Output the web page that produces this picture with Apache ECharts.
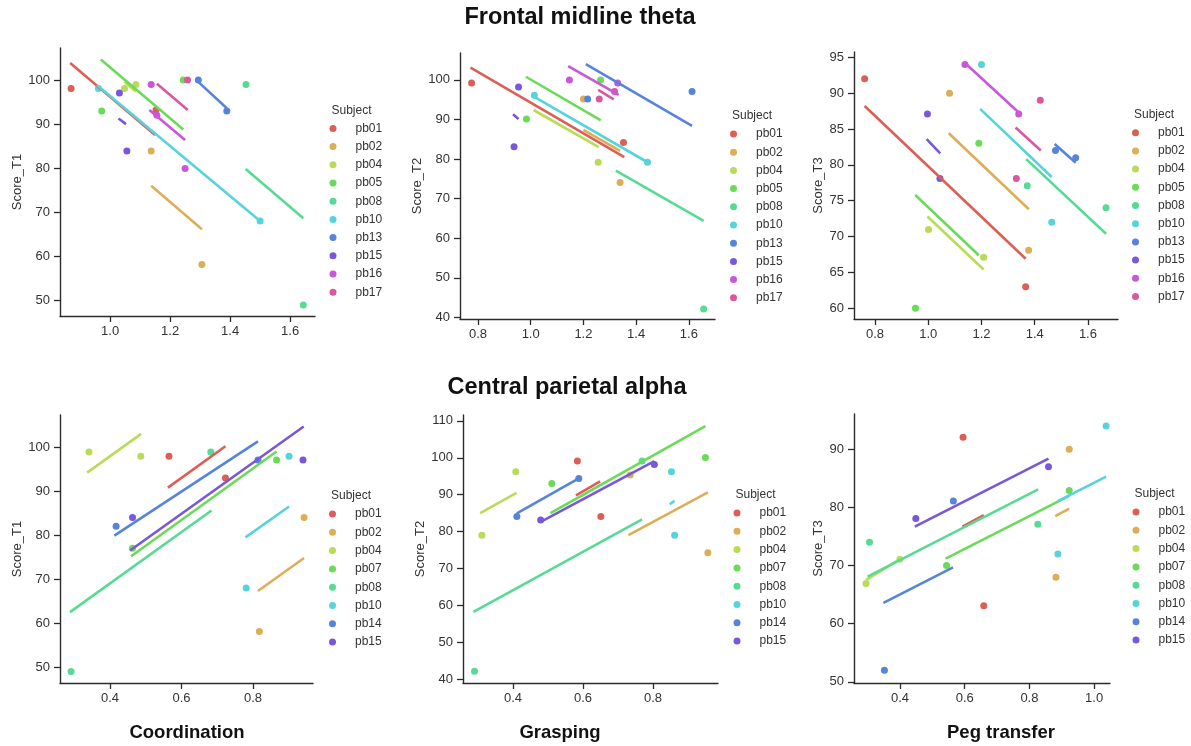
<!DOCTYPE html>
<html>
<head>
<meta charset="utf-8">
<title>Frontal midline theta / Central parietal alpha</title>
<script src="https://cdn.jsdelivr.net/npm/echarts@6/dist/echarts.min.js"></script>
<style>
  html, body { margin: 0; padding: 0; background: #fff; }
  #chart { width: 1191px; height: 746px; }
</style>
</head>
<body>
<div id="chart"></div>
<script>
// subjects per row
const subjectsTheta = ['pb01', 'pb02', 'pb04', 'pb05', 'pb08', 'pb10', 'pb13', 'pb15', 'pb16', 'pb17'];
const subjectsAlpha = ['pb01', 'pb02', 'pb04', 'pb07', 'pb08', 'pb10', 'pb14', 'pb15'];

// hls palette
const palette = ['#db5f57', '#dbae57', '#b9db57', '#69db57', '#57db94', '#57d3db', '#5784db', '#7957db', '#c957db', '#db579e'];

// tick values
const ticksThetaT1X = [1.0, 1.2, 1.4, 1.6];
const ticksThetaX = [0.8, 1.0, 1.2, 1.4, 1.6];
const ticksAlphaX = [0.4, 0.6, 0.8];
const ticksAlphaPegX = [0.4, 0.6, 0.8, 1.0];
const ticksT1Y = [50, 60, 70, 80, 90, 100];
const ticksThetaT2Y = [40, 50, 60, 70, 80, 90, 100];
const ticksThetaT3Y = [60, 65, 70, 75, 80, 85, 90, 95];
const ticksAlphaT2Y = [40, 50, 60, 70, 80, 90, 100, 110];
const ticksAlphaT3Y = [50, 60, 70, 80, 90];

// Frontal midline theta: Coordination vs Score_T1
const thetaCoordPoints = {
    pb01: [[0.87, 98.1], [1.153, 93.2]],
    pb02: [[1.137, 83.9], [1.306, 58.1]],
    pb04: [[1.048, 98.1], [1.086, 99.0]],
    pb05: [[0.972, 93.0], [1.244, 100]],
    pb08: [[1.453, 99.0], [1.644, 48.9]],
    pb10: [[0.961, 98.1], [1.50, 68.0]],
    pb13: [[1.294, 100], [1.389, 93.0]],
    pb15: [[1.031, 97.1], [1.056, 83.9]],
    pb16: [[1.137, 99.0], [1.156, 92.0], [1.25, 79.9]],
    pb17: [[1.258, 100]]
};
const thetaCoordFits = {
    pb01: [[0.867, 103.9], [1.15, 87.5]],
    pb02: [[1.137, 76.0], [1.306, 66.1]],
    pb04: [[1.048, 99.6], [1.086, 97.4]],
    pb05: [[0.969, 104.7], [1.244, 88.8]],
    pb08: [[1.452, 79.8], [1.644, 68.6]],
    pb10: [[0.956, 98.9], [1.50, 68.0]],
    pb13: [[1.294, 99.6], [1.389, 93.6]],
    pb15: [[1.028, 91.3], [1.053, 90.0]],
    pb16: [[1.131, 93.2], [1.25, 86.4]],
    pb17: [[1.156, 99.2], [1.259, 93.2]]
};

// Frontal midline theta: Grasping vs Score_T2
const thetaGraspPoints = {
    pb01: [[0.776, 99.2], [1.352, 84.2]],
    pb02: [[1.20, 95.2], [1.339, 74.1]],
    pb04: [[1.256, 79.2]],
    pb05: [[0.984, 90.1], [1.265, 100]],
    pb08: [[1.656, 42.1]],
    pb10: [[1.014, 96.1], [1.443, 79.2]],
    pb13: [[1.216, 95.2], [1.612, 97.1]],
    pb15: [[0.954, 98.2], [0.937, 83.1]],
    pb16: [[1.147, 100], [1.33, 99.2]],
    pb17: [[1.26, 95.2], [1.318, 97.1]]
};
const thetaGraspFits = {
    pb01: [[0.772, 103.1], [1.355, 80.5]],
    pb02: [[1.20, 87.4], [1.339, 82.1]],
    pb04: [[1.011, 92.4], [1.258, 83.0]],
    pb05: [[0.982, 100.8], [1.266, 89.8]],
    pb08: [[1.323, 77.1], [1.656, 64.4]],
    pb10: [[1.014, 95.7], [1.443, 79.2]],
    pb13: [[1.209, 104.0], [1.612, 88.4]],
    pb15: [[0.933, 91.3], [0.954, 90.1]],
    pb16: [[1.142, 103.5], [1.334, 96.2]],
    pb17: [[1.256, 97.5], [1.315, 95.1]]
};

// Frontal midline theta: Peg transfer vs Score_T3
const thetaPegPoints = {
    pb01: [[0.761, 92.0], [1.366, 63.0]],
    pb02: [[1.08, 90.0], [1.377, 68.1]],
    pb04: [[1.001, 71.0], [1.208, 67.1]],
    pb05: [[0.952, 60.0], [1.19, 83.0]],
    pb08: [[1.372, 77.1], [1.668, 74.0]],
    pb10: [[1.20, 94.0], [1.464, 72.0]],
    pb13: [[1.478, 82.0], [1.554, 81.0]],
    pb15: [[0.997, 87.1], [1.044, 78.1]],
    pb16: [[1.138, 94.0], [1.34, 87.1]],
    pb17: [[1.421, 89.0], [1.331, 78.1]]
};
const thetaPegFits = {
    pb01: [[0.761, 88.2], [1.366, 66.9]],
    pb02: [[1.077, 84.4], [1.378, 73.8]],
    pb04: [[0.997, 72.8], [1.208, 65.4]],
    pb05: [[0.951, 75.8], [1.19, 67.4]],
    pb08: [[1.368, 80.8], [1.668, 70.4]],
    pb10: [[1.195, 87.8], [1.464, 78.3]],
    pb13: [[1.475, 82.9], [1.554, 80.3]],
    pb15: [[0.994, 83.6], [1.045, 81.6]],
    pb16: [[1.138, 94.2], [1.34, 87.3]],
    pb17: [[1.328, 85.2], [1.423, 82.0]]
};

// Central parietal alpha: Coordination vs Score_T1
const alphaCoordPoints = {
    pb01: [[0.565, 97.9], [0.723, 93.0]],
    pb02: [[0.943, 84.0], [0.818, 58.1]],
    pb04: [[0.341, 98.9], [0.486, 97.9]],
    pb07: [[0.463, 77.0], [0.866, 97.1]],
    pb08: [[0.682, 98.9], [0.291, 49.0]],
    pb10: [[0.901, 97.9], [0.781, 68.0]],
    pb14: [[0.417, 82.0], [0.814, 97.1]],
    pb15: [[0.463, 84.0], [0.940, 97.1]]
};
const alphaCoordFits = {
    pb01: [[0.562, 90.8], [0.723, 100.2]],
    pb02: [[0.814, 67.3], [0.943, 74.8]],
    pb04: [[0.336, 94.2], [0.487, 103.0]],
    pb07: [[0.459, 75.2], [0.866, 99.0]],
    pb08: [[0.288, 62.5], [0.684, 85.6]],
    pb10: [[0.779, 79.5], [0.901, 86.5]],
    pb14: [[0.412, 79.9], [0.814, 101.3]],
    pb15: [[0.456, 76.5], [0.942, 104.7]]
};

// Central parietal alpha: Grasping vs Score_T2
const alphaGraspPoints = {
    pb01: [[0.584, 99.1], [0.651, 84.1]],
    pb02: [[0.735, 95.3], [0.957, 74.2]],
    pb04: [[0.408, 96.2], [0.311, 79.0]],
    pb07: [[0.511, 93.0], [0.950, 100.1]],
    pb08: [[0.769, 99.1], [0.290, 42.1]],
    pb10: [[0.853, 96.2], [0.862, 79.0]],
    pb14: [[0.411, 84.1], [0.588, 94.4]],
    pb15: [[0.479, 83.1], [0.804, 98.2]]
};
const alphaGraspFits = {
    pb01: [[0.58, 89.8], [0.649, 93.6]],
    pb02: [[0.73, 79.0], [0.957, 90.6]],
    pb04: [[0.306, 85.0], [0.41, 90.5]],
    pb07: [[0.507, 85.0], [0.950, 108.6]],
    pb08: [[0.287, 58.2], [0.769, 83.3]],
    pb10: [[0.848, 87.4], [0.862, 88.3]],
    pb14: [[0.411, 84.9], [0.588, 94.4]],
    pb15: [[0.479, 82.6], [0.804, 99.1]]
};

// Central parietal alpha: Peg transfer vs Score_T3
const alphaPegPoints = {
    pb01: [[0.595, 92.1], [0.659, 63.1]],
    pb02: [[0.923, 90.0], [0.882, 68.0]],
    pb04: [[0.40, 71.1], [0.295, 66.9]],
    pb07: [[0.923, 82.9], [0.544, 70.0]],
    pb08: [[0.826, 77.1], [0.306, 74.0]],
    pb10: [[0.888, 72.0], [1.037, 94.0]],
    pb14: [[0.565, 81.1], [0.352, 52.0]],
    pb15: [[0.449, 78.1], [0.859, 87.0]]
};
const alphaPegFits = {
    pb01: [[0.593, 76.7], [0.659, 78.7]],
    pb02: [[0.88, 78.5], [0.923, 79.8]],
    pb04: [[0.295, 67.5], [0.40, 71.1]],
    pb07: [[0.541, 71.2], [0.923, 82.0]],
    pb08: [[0.30, 68.1], [0.827, 83.1]],
    pb10: [[0.888, 81.1], [1.037, 85.3]],
    pb14: [[0.349, 63.6], [0.564, 69.7]],
    pb15: [[0.446, 76.7], [0.859, 88.4]]
};

const chart = echarts.init(document.getElementById('chart'));

const axisColor = '#2b2b2b';
const textColor = '#333';
const fontFamily = '"Liberation Sans", Arial, sans-serif';

// layout of the six panels
const panels = [
    { grid: { left: 60, top: 48, width: 255, height: 268 }, x: [0.833, 1.683], y: [46.4, 107.3], xt: ticksThetaT1X, yt: ticksT1Y, yName: 'Score_T1', gap: 36,
      subjects: subjectsTheta, points: thetaCoordPoints, fits: thetaCoordFits, legend: [333, 128.4], legendGap: 6.2 },
    { grid: { left: 460, top: 53, width: 255, height: 266 }, x: [0.732, 1.699], y: [39.6, 106.8], xt: ticksThetaX, yt: ticksThetaT2Y, yName: 'Score_T2', gap: 36,
      subjects: subjectsTheta, points: thetaGraspPoints, fits: thetaGraspFits, legend: [733.5, 134], legendGap: 6.2 },
    { grid: { left: 854, top: 52, width: 264, height: 267 }, x: [0.721, 1.713], y: [58.5, 95.74], xt: ticksThetaX, yt: ticksThetaT3Y, yName: 'Score_T3', gap: 29,
      subjects: subjectsTheta, points: thetaPegPoints, fits: thetaPegFits, legend: [1135.5, 132.7], legendGap: 6.2 },
    { grid: { left: 60, top: 415, width: 253, height: 268 }, x: [0.26, 0.968], y: [46.4, 107.3], xt: ticksAlphaX, yt: ticksT1Y, yName: 'Score_T1', gap: 36,
      subjects: subjectsAlpha, points: alphaCoordPoints, fits: alphaCoordFits, legend: [332.5, 514], legendGap: 6.3 },
    { grid: { left: 463, top: 415, width: 255, height: 268 }, x: [0.257, 0.986], y: [38.9, 111.6], xt: ticksAlphaX, yt: ticksAlphaT2Y, yName: 'Score_T2', gap: 35,
      subjects: subjectsAlpha, points: alphaGraspPoints, fits: alphaGraspFits, legend: [737, 513], legendGap: 6.3 },
    { grid: { left: 854, top: 414, width: 256, height: 269 }, x: [0.258, 1.049], y: [49.8, 96.08], xt: ticksAlphaPegX, yt: ticksAlphaT3Y, yName: 'Score_T3', gap: 29,
      subjects: subjectsAlpha, points: alphaPegPoints, fits: alphaPegFits, legend: [1136, 512], legendGap: 6.3 }
];

const grids = [], xAxes = [], yAxes = [], legends = [], series = [];
const graphics = [];

panels.forEach((p, i) => {
    grids.push(Object.assign({ outerBoundsMode: 'none', containLabel: false }, p.grid));

    const axisBase = {
        type: 'value',
        gridIndex: i,
        scale: true,
        splitLine: { show: false },
        axisLine: { show: true, onZero: false, lineStyle: { color: axisColor, width: 1.4 } },
        axisTick: { show: true, inside: false, length: 6, lineStyle: { color: axisColor, width: 1.3 } }
    };
    xAxes.push(Object.assign({}, axisBase, {
        min: p.x[0], max: p.x[1],
        axisTick: Object.assign({}, axisBase.axisTick, { customValues: p.xt }),
        axisLabel: { customValues: p.xt, margin: 9, color: textColor, fontSize: 13, fontFamily: fontFamily,
            formatter: v => Number(v).toFixed(1) }
    }));
    yAxes.push(Object.assign({}, axisBase, {
        min: p.y[0], max: p.y[1],
        name: p.yName, nameLocation: 'middle', nameGap: p.gap,
        nameTextStyle: { color: textColor, fontSize: 13, fontFamily: fontFamily },
        axisTick: Object.assign({}, axisBase.axisTick, { customValues: p.yt }),
        axisLabel: { customValues: p.yt, margin: 10, color: textColor, fontSize: 13, fontFamily: fontFamily,
            formatter: v => String(Math.round(v)) }
    }));

    // legend icon sits at the left edge of each item
    legends.push({
        orient: 'vertical',
        left: p.legend[0] - 3.5,
        top: p.legend[1] - 6,
        padding: 0,
        itemWidth: 35,
        itemHeight: 7,
        itemGap: p.legendGap,
        icon: 'circle',
        selectedMode: false,
        textStyle: { color: textColor, fontSize: 12, fontFamily: fontFamily },
        data: p.subjects.map(s => ({ name: s, icon: 'circle' }))
    });

    graphics.push({
        type: 'text', x: p.legend[0] - 1.5, y: p.legend[1] - 18,
        style: { text: 'Subject', fill: textColor, font: '12px ' + fontFamily, textAlign: 'left', textVerticalAlign: 'middle' }
    });

    p.subjects.forEach((s, k) => {
        const c = palette[k];
        series.push({
            type: 'scatter', name: s, xAxisIndex: i, yAxisIndex: i,
            data: p.points[s], symbol: 'circle', symbolSize: 7,
            itemStyle: { color: c, opacity: 1 },
            emphasis: { disabled: true }, silent: true
        });
        series.push({
            type: 'line', name: s, xAxisIndex: i, yAxisIndex: i,
            data: p.fits[s], symbol: 'none', showSymbol: false,
            lineStyle: { color: c, width: 2.6 }, itemStyle: { color: c },
            emphasis: { disabled: true }, silent: true
        });
    });
});

// figure titles and bottom labels
const bigTitles = [
    ['Frontal midline theta', 580, 18, 23.5],
    ['Central parietal alpha', 567, 388, 23.5],
    ['Coordination', 187, 733, 18.5],
    ['Grasping', 560, 733, 18.5],
    ['Peg transfer', 1001, 733, 18.5]
];
bigTitles.forEach(t => {
    graphics.push({
        type: 'text', x: t[1], y: t[2],
        style: { text: t[0], fill: '#111', font: 'bold ' + t[3] + 'px ' + fontFamily, textAlign: 'center', textVerticalAlign: 'middle' }
    });
});

chart.setOption({
    animation: false,
    backgroundColor: '#fff',
    textStyle: { fontFamily: fontFamily },
    grid: grids,
    xAxis: xAxes,
    yAxis: yAxes,
    legend: legends,
    graphic: graphics,
    series: series
});
</script>
</body>
</html>
